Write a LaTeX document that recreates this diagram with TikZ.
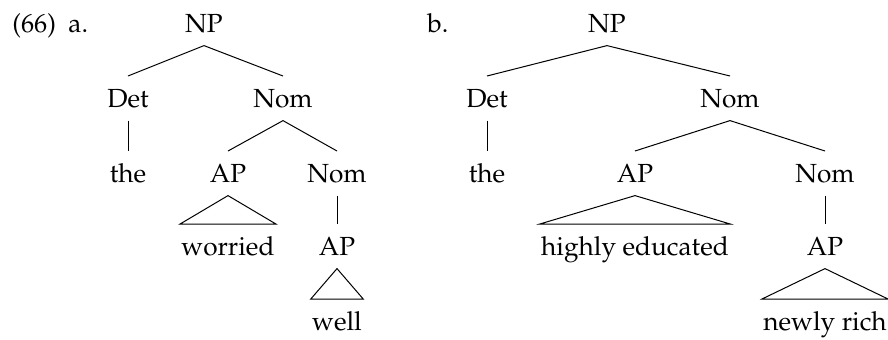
\documentclass[tikz,border=0pt]{standalone}
\usepackage[T1]{fontenc}
\usepackage{mathpazo}
\usepackage{tikz}
\usetikzlibrary{positioning}

\begin{document}
\begin{tikzpicture}[x=0.5pt, y=-0.5pt,
      every node/.style={font=\fontsize{13.1}{16}\selectfont},
      cat/.style={anchor=base, text height=8.7pt, text depth=0pt, inner xsep=0.5pt, inner ysep=6.6pt},
      lbl/.style={anchor=base west, inner sep=0pt},
      br/.style={line width=0.5pt}]
    \useasboundingbox (0,0) rectangle (888,339);
    \node[lbl] (ex)  at (12,32)  {(66)};
    \node[lbl] (la)  at (68,32)  {a.};
    \node[lbl] (lb)  at (427,32) {b.};
    % tree a
    \node[cat] (npA)   at (204,32)  {NP};
    \node[cat] (detA)  at (128,107) {Det};
    \node[cat] (nomA)  at (283,107) {Nom};
    \node[cat] (theA)  at (128,182) {the};
    \node[cat] (apA)   at (228,182) {AP};
    \node[cat] (nomAA) at (337,182) {Nom};
    \node[cat] (worA)  at (228,255) {worried};
    \node[cat] (apAA)  at (337,255) {AP};
    \node[cat] (welA)  at (337,330) {well};
    \draw[br] (npA.south) -- (detA.north); \draw[br] (npA.south) -- (nomA.north);
    \draw[br] (detA.south) -- (theA.north);
    \draw[br] (nomA.south) -- (apA.north); \draw[br] (nomA.south) -- (nomAA.north);
    \draw[br] (nomAA.south) -- (apAA.north);
    \draw[br] (apA.south) -- (worA.north west) -- (worA.north east) -- cycle;
    \draw[br] (apAA.south) -- (welA.north west) -- (welA.north east) -- cycle;
    % tree b
    \node[cat] (npB)   at (607,32)  {NP};
    \node[cat] (detB)  at (487,107) {Det};
    \node[cat] (nomB)  at (730,107) {Nom};
    \node[cat] (theB)  at (487,182) {the};
    \node[cat] (apB)   at (635,182) {AP};
    \node[cat] (nomBB) at (825,182) {Nom};
    \node[cat] (eduB)  at (635,255) {highly educated};
    \node[cat] (apBB)  at (825,255) {AP};
    \node[cat] (ricB)  at (825,330) {newly rich};
    \draw[br] (npB.south) -- (detB.north); \draw[br] (npB.south) -- (nomB.north);
    \draw[br] (detB.south) -- (theB.north);
    \draw[br] (nomB.south) -- (apB.north); \draw[br] (nomB.south) -- (nomBB.north);
    \draw[br] (nomBB.south) -- (apBB.north);
    \draw[br] (apB.south) -- (eduB.north west) -- (eduB.north east) -- cycle;
    \draw[br] (apBB.south) -- (ricB.north west) -- (ricB.north east) -- cycle;
  \end{tikzpicture}
\end{document}
